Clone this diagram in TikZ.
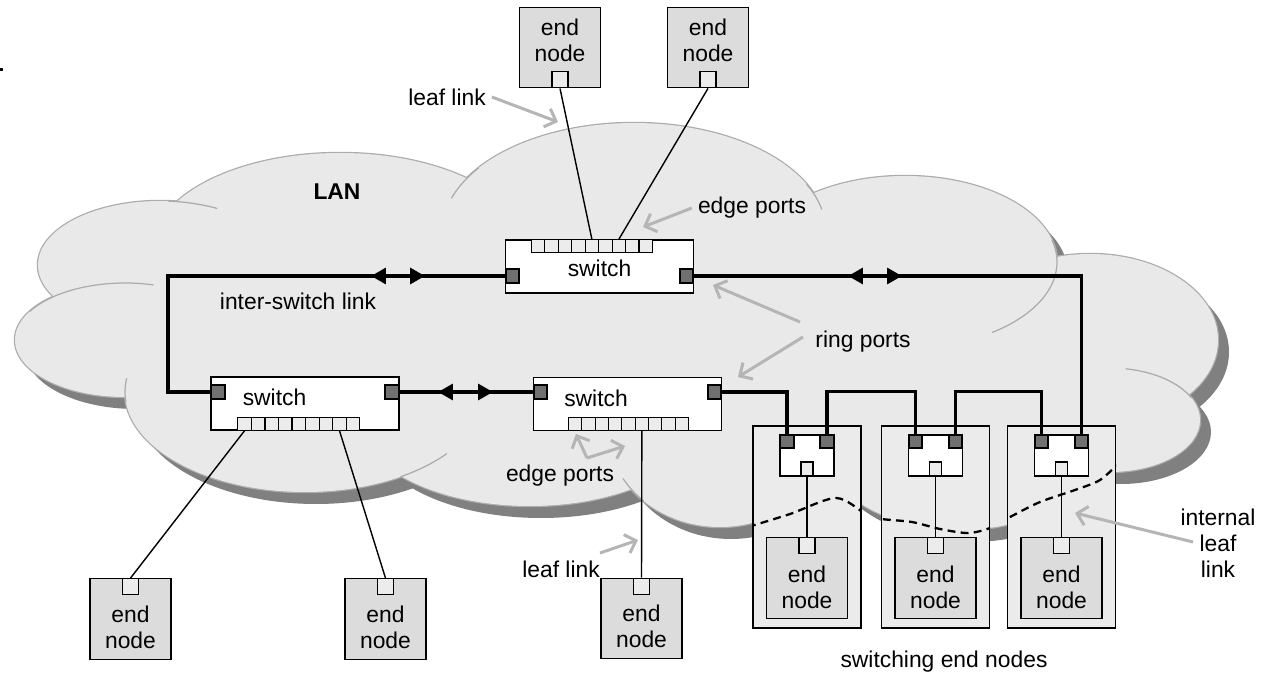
\documentclass[tikz,border=0pt]{standalone}
\usepackage{fontspec}
\setmainfont{Liberation Sans}
\usetikzlibrary{arrows.meta,calc}

\definecolor{lanfill}{HTML}{E9E9E9}
\definecolor{lanedge}{HTML}{ABABAB}
\definecolor{lanshade}{HTML}{808080}
\definecolor{nodefill}{HTML}{DCDCDC}
\definecolor{portfill}{HTML}{ECECEC}
\definecolor{ringfill}{HTML}{707070}
\definecolor{contfill}{HTML}{EBEBEB}
\definecolor{notegrey}{HTML}{B5B5B5}

\tikzset{
  endnode/.style={draw, line width=0.75pt, fill=nodefill, minimum width=1.62cm, minimum height=1.61cm, inner sep=0pt},
  endport/.style={draw, line width=0.75pt, fill=portfill, minimum width=0.32cm, minimum height=0.32cm, inner sep=0pt},
  switchbox/.style={draw, line width=0.75pt, fill=white, minimum width=3.76cm, minimum height=1.06cm, inner sep=0pt},
  cell/.style={draw, line width=0.6pt, fill=portfill, minimum width=0.269cm, minimum height=0.26cm, inner sep=0pt},
  ringport/.style={draw, line width=1pt, fill=ringfill, minimum width=0.27cm, minimum height=0.27cm, inner sep=0pt},
  container/.style={draw, line width=0.75pt, fill=contfill, minimum width=2.16cm, minimum height=4.04cm, inner sep=0pt},
  smallswitch/.style={draw, line width=0.75pt, fill=white, minimum width=1.08cm, minimum height=0.82cm, inner sep=0pt},
  smallport/.style={draw, line width=0.75pt, fill=portfill, minimum width=0.24cm, minimum height=0.28cm, inner sep=0pt},
  ring/.style={line width=2pt},
  leaf/.style={line width=0.8pt},
  note/.style={draw=notegrey, line width=1.7pt, -{Straight Barb[length=5.5pt,width=11pt]}},
  pair/.style={ring, {Triangle[length=8.5pt,width=9pt]}-{Triangle[length=8.5pt,width=9pt]}},
  lanline/.style={draw=lanedge, line width=0.7pt},
}

% bumps of the cloud: x/y/x radius/y radius
\def\lanbumps{634/232/192/109, 340/250/188/97, 160/265/122/64, 125/340/110/57,
  305/392/180/100, 530/420/170/86, 720/430/112/97, 960/425/150/105,
  905/262/152/86, 1090/340/128/86, 1110/420/90/52}

\begin{document}
\begin{tikzpicture}[x=0.02cm, y=-0.02cm, every node/.style={font=\fontsize{13}{14.8}\selectfont}]
\useasboundingbox (0,0) rectangle (1267,675);
\fill (0,68) rectangle (3,71);

% LAN cloud
\foreach \cx/\cy/\rx/\ry in \lanbumps
  \fill[lanshade] (\cx+11,\cy+12) ellipse [x radius=\rx, y radius=\ry];
\foreach \cx/\cy/\rx/\ry in \lanbumps
  \draw[draw=lanedge, line width=1.4pt] (\cx,\cy) ellipse [x radius=\rx, y radius=\ry];
\foreach \cx/\cy/\rx/\ry in \lanbumps
  \fill[lanfill] (\cx,\cy) ellipse [x radius=\rx, y radius=\ry];
\fill[lanfill] (700,340) ellipse [x radius=300, y radius=110];
\foreach \cx/\cy/\rx/\ry/\ta/\tb in {634/232/192/109/198/216, 634/232/192/109/-26/-12,
    160/265/122/64/-86/-62, 125/340/110/57/-150/-75, 305/392/180/100/174/188,
    305/392/180/100/58/38, 720/430/112/97/150/133, 905/262/152/86/-15/55,
    1110/420/90/52/-80/-25}
  \draw[lanline] (\cx,\cy) ++(\ta:{\rx} and {\ry}) arc [start angle=\ta, end angle=\tb, x radius=\rx, y radius=\ry];

% texts
\node[font=\fontsize{13}{14.8}\selectfont\bfseries] (lan) at (337,192) {LAN};
\node (interlink) at (298,301) {inter-switch link};
\node (leaflinka) at (447,97) {leaf link};
\node (edgeportsa) at (752,208) {edge ports};
\node (ringports) at (863,342) {ring ports};
\node (edgeportsb) at (560,476) {edge ports};
\node (leaflinkb) at (561,569) {leaf link};
\node[align=center] (internal) at (1218,543) {internal\\leaf\\link};
\node (switching) at (944,662) {switching end nodes};

% switching end nodes
\foreach \n/\x in {1/807,2/935.5,3/1061.5}
  \node[container] (c\n) at (\x,527) {};
\begin{scope}
  \clip (c1.south west) rectangle (c1.north east) (c2.south west) rectangle (c2.north east)
    (c3.south west) rectangle (c3.north east);
  \draw[line width=1.3pt, dash pattern=on 4.5pt off 3pt] plot[smooth] coordinates {(748,527) (790,514)
    (836,498) (866,514) (882,519) (912,522) (940,529) (968,533) (990,528) (1010,517) (1040,502)
    (1075,490) (1100,480) (1120,462)};
\end{scope}
\foreach \n/\x in {1/807,2/935.5,3/1061.5} {
  \node[smallswitch] (s\n) at (\x,455.5) {};
  \node[ringport, minimum height=0.26cm, anchor=north west] (s\n-l) at (s\n.north west) {};
  \node[ringport, minimum height=0.26cm, anchor=north east] (s\n-r) at (s\n.north east) {};
  \node[smallport, anchor=south] (s\n-b) at (s\n.south) {};
  \node[endnode] (e\n) at (\x,578) {};
  \node[endport, anchor=north] (e\n-p) at (e\n.north) {};
  \node[align=center] (e\n-txt) at ($(e\n)+(0,9)$) {end\\node};
  \draw[leaf] (s\n-b.south) -- (e\n-p.north);
}

% switches
\node[switchbox] (tsw) at (599.5,266.5) {};
\node (tswtxt) at ($(tsw)+(0,1.5)$) {switch};
\node[ringport, anchor=west] (tswl) at ($(tsw.west)+(0,9.5)$) {};
\node[ringport, anchor=east] (tswr) at ($(tsw.east)+(0,9.5)$) {};
\foreach \i in {1,...,9}
  \node[cell, anchor=north west] (ts\i) at ($(tsw.north west)+({26+13.45*(\i-1)},0)$) {};

\node[switchbox] (lsw) at (305,403.5) {};
\node (lswtxt) at ($(lsw)+(-30.5,-6.5)$) {switch};
\node[ringport, anchor=west] (lswl) at ($(lsw.west)+(0,-11.5)$) {};
\node[ringport, anchor=east] (lswr) at ($(lsw.east)+(0,-11.5)$) {};
\foreach \i in {1,...,9}
  \node[cell, anchor=south west] (lc\i) at ($(lsw.south west)+({27+13.55*(\i-1)},0)$) {};

\node[switchbox] (msw) at (627.5,404) {};
\node (mswtxt) at ($(msw)+(-31.5,-6)$) {switch};
\node[ringport, anchor=west] (mswl) at ($(msw.west)+(0,-12)$) {};
\node[ringport, anchor=east] (mswr) at ($(msw.east)+(0,-12)$) {};
\foreach \i in {1,...,9}
  \node[cell, anchor=south west] (mc\i) at ($(msw.south west)+({35+13.35*(\i-1)},0)$) {};

% end nodes
\node[endnode] (t1) at (560,47.5) {};
\node[endport, anchor=south] (t1p) at (t1.south) {};
\node[align=center] (t1txt) at ($(t1)+(0,-7)$) {end\\node};
\node[endnode] (t2) at (708,47.5) {};
\node[endport, anchor=south] (t2p) at (t2.south) {};
\node[align=center] (t2txt) at ($(t2)+(0,-7)$) {end\\node};
\node[endnode] (b1) at (130.5,619) {};
\node[endport, anchor=north] (b1p) at (b1.north) {};
\node[align=center] (b1txt) at ($(b1)+(0,8)$) {end\\node};
\node[endnode] (b2) at (385.5,619) {};
\node[endport, anchor=north] (b2p) at (b2.north) {};
\node[align=center] (b2txt) at ($(b2)+(0,8)$) {end\\node};
\node[endnode] (b3) at (641.5,618.5) {};
\node[endport, anchor=north] (b3p) at (b3.north) {};
\node[align=center] (b3txt) at ($(b3)+(0,8)$) {end\\node};

% leaf links
\draw[leaf] (t1p.south) -- (ts5.north);
\draw[leaf] (t2p.south) -- (ts7.north);
\draw[leaf] (lc1.south) -- (b1p.north);
\draw[leaf] (lc8.south) -- (b2p.north);
\draw[leaf] (mc6.south) -- (b3p.north);

% ring
\coordinate (ringcorner) at (168,276);
\draw[ring] (tswl.west) -- (ringcorner) |- (lswl.west);
\draw[ring] (lswr.east) -- (mswl.west);
\draw[ring] (mswr.east) -| (s1-l.north);
\draw[ring] (s1-r.north) -- ++(0,-43) -| (s2-l.north);
\draw[ring] (s2-r.north) -- ++(0,-43) -| (s3-l.north);
\draw[ring] (s3-r.north) |- (tswr.east);

\coordinate (pa1) at (371,276);
\coordinate (pa2) at (425,276);
\coordinate (pb1) at (438,392);
\coordinate (pb2) at (493,392);
\coordinate (pc1) at (848,276);
\coordinate (pc2) at (902,276);
\draw[pair] (pa1) -- (pa2);
\draw[pair] (pb1) -- (pb2);
\draw[pair] (pc1) -- (pc2);

% grey pointers
\coordinate (la) at (558,122);
\coordinate (ea) at (643,227);
\coordinate (rpa) at (800,322);
\coordinate (rpta) at (713,285);
\coordinate (rpb) at (803,337);
\coordinate (rptb) at (738,377);
\coordinate (ep) at (587,458);
\coordinate (eb1) at (576,434);
\coordinate (eb2) at (625,446);
\coordinate (lb) at (600,553);
\coordinate (lbt) at (638,540);
\coordinate (il) at (1193,542);
\coordinate (ilt) at (1075,513);
\draw[note] (leaflinka.east) -- (la);
\draw[note] (edgeportsa.west) -- (ea);
\draw[note] (rpa) -- (rpta);
\draw[note] (rpb) -- (rptb);
\draw[note] (ep) -- (eb1);
\draw[note] (ep) -- (eb2);
\draw[note] (lb) -- (lbt);
\draw[note] (il) -- (ilt);
\end{tikzpicture}
\end{document}
